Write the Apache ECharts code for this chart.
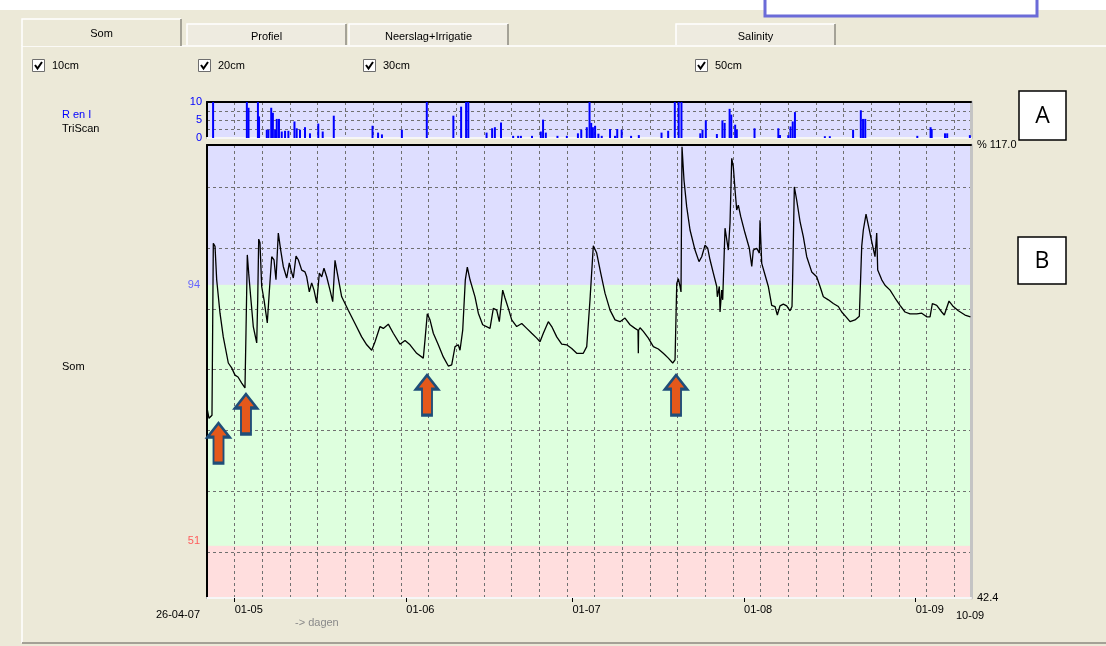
<!DOCTYPE html>
<html><head><meta charset="utf-8">
<script src="https://cdn.jsdelivr.net/npm/echarts@6/dist/echarts.min.js"></script>
<style>html,body{margin:0;padding:0;background:#ece9d8;}#c{width:1106px;height:646px;}</style>
</head><body><div id="c"></div>
<script>
// ---- data (x = days since 26-04-07) ----
const startLabel = '26-04-07';
const endLabel = '10-09';
const dayMax = 138;
const xTickDays = [5, 36, 66, 97, 128];
const xTickLabels = ['01-05', '01-06', '01-07', '01-08', '01-09'];

const yMin = 42.4, yMax = 117;
const bandLimits = [42.4, 51, 94, 117];
const yLabelValues = [51, 94];
const yGridValues = [50, 60, 70, 80, 90, 100, 110];

const somDays = [0.0,0.36,0.9,1.14,1.45,1.75,2.35,2.94,3.85,4.46,
5.06,5.6,6.27,6.86,7.04,7.28,7.53,7.89,8.36,8.98,
9.16,9.34,9.57,9.88,10.3,10.89,11.25,11.69,12.1,12.46,
12.88,13.31,13.78,14.4,14.87,15.17,15.59,16.08,16.49,17.11,
17.7,18.01,18.48,18.91,19.33,19.82,20.29,20.72,21.13,21.62,
22.22,22.71,23.12,23.54,24.33,25.52,26.73,27.94,28.85,29.75,
30.35,31.25,31.85,32.75,33.65,34.86,35.77,36.67,37.88,39.07,
39.38,39.79,40.28,40.88,41.78,42.68,43.59,44.2,44.8,45.39,
45.7,46.19,46.66,47.02,47.51,48.41,49.01,49.8,51.12,51.72,
52.33,52.8,53.41,53.83,54.43,55.04,55.94,56.85,57.75,58.65,
59.56,60.15,60.75,61.65,62.27,63.17,64.07,64.97,65.88,66.78,
67.97,68.59,69.18,69.78,70.39,71.12,71.89,72.8,73.7,74.6,
75.5,76.41,77.31,77.85,77.91,77.96,78.22,78.81,79.72,80.62,
81.52,82.42,83.33,84.12,84.54,84.85,85.14,85.44,85.62,85.8,
86.16,86.65,87.25,88.15,88.87,89.36,89.96,90.44,90.86,91.46,
92.07,92.18,92.54,92.67,92.97,93.15,93.57,93.88,94.17,94.47,
94.78,95.07,95.38,95.68,95.97,96.41,97.18,97.96,98.4,98.68,
99.3,99.77,99.89,100.2,100.8,101.39,102.0,102.6,103.02,103.5,
104.1,104.71,105.31,105.67,105.8,106.09,106.52,107.12,107.71,108.33,
109.23,110.13,110.73,111.33,112.23,113.13,114.04,114.65,115.43,116.15,
117.05,117.83,118.14,118.26,118.55,119.04,119.45,120.07,120.66,120.97,
121.15,121.88,122.47,123.38,124.28,125.18,126.08,126.99,128.2,129.1,
130.0,130.6,131.02,131.81,132.71,133.18,134.03,134.7,135.71,136.92,
137.9];
const somValues = [73.7,72.0,72.5,100.8,100.3,94.8,89.3,85.4,81.1,80.3,
79.1,78.8,77.8,77.0,86.0,98.9,95.9,92.0,87.1,84.4,
91.5,101.5,100.9,93.7,91.5,87.7,92.8,98.6,98.1,94.8,
102.5,99.7,97.0,95.1,97.6,96.4,95.1,98.7,98.1,96.4,
96.1,95.3,92.8,94.3,93.1,91.0,95.9,95.3,96.7,95.3,
93.1,91.2,98.0,95.9,92.0,89.8,87.6,85.4,84.1,83.2,
84.6,87.1,86.8,87.5,86.0,84.2,84.8,84.1,82.7,81.9,
84.9,89.2,88.2,86.0,84.1,82.1,80.6,80.8,83.8,84.1,
83.2,86.5,94.8,96.9,94.8,92.0,89.3,87.4,86.8,90.1,
89.8,87.9,93.1,91.8,90.1,88.2,87.1,87.6,86.8,86.0,
85.2,84.6,86.0,87.9,87.1,85.4,84.2,84.1,83.5,82.7,
82.7,83.8,91.5,100.4,99.2,95.9,92.6,89.8,88.2,87.9,
88.5,87.4,86.8,86.5,82.7,86.5,86.9,86.3,85.2,83.8,
83.4,82.7,81.9,81.1,81.6,94.2,95.0,93.7,92.8,116.7,
111.2,106.8,103.0,99.7,97.8,98.6,100.5,100.0,98.1,95.9,
93.7,92.0,93.7,89.5,93.1,91.5,103.3,103.0,99.7,104.1,
114.8,113.4,109.6,106.3,107.1,105.2,102.5,100.0,97.0,99.7,
100.0,99.2,104.6,97.5,95.6,93.7,90.6,90.4,89.0,90.5,
90.8,90.5,89.7,90.4,95.9,110.1,107.9,104.4,101.9,98.6,
96.1,95.3,93.7,92.0,91.5,90.9,90.4,89.5,88.7,87.9,
88.2,88.8,88.7,100.3,103.0,105.6,103.8,101.1,98.6,102.5,
96.4,94.8,93.9,93.1,91.8,90.6,89.5,89.2,89.2,89.3,
88.7,88.7,90.9,90.6,89.5,89.0,91.3,90.5,89.7,89.0,
88.7];

const rainDays = [1.1,7.2,7.5,9.2,9.4,10.8,11.1,11.6,11.9,12.3,
12.6,13.0,13.5,14.1,14.7,15.8,16.2,16.8,17.7,18.6,
20.1,20.9,22.9,29.9,30.9,31.6,35.2,39.7,44.5,45.9,
46.8,47.2,50.5,51.5,52.0,53.1,55.3,56.2,56.7,58.7,
60.3,60.7,61.2,63.3,65.0,67.0,67.6,68.6,69.1,69.4,
69.7,70.1,70.7,71.3,72.8,73.7,74.1,74.9,76.6,78.0,
82.1,83.3,84.5,85.2,85.7,89.1,89.5,90.1,92.1,93.1,
93.5,94.4,94.7,95.4,95.7,98.9,103.2,103.5,105.0,105.4,
105.8,106.2,111.6,112.5,116.7,118.1,118.5,118.9,128.3,130.7,
130.9,133.3,133.7,137.8];
const rainValues = [10,10,8.4,10,6,2.3,2.3,8.4,7,2.3,
5.3,5.3,1.8,2,2,4.6,2.7,2.3,3,1.3,
4,1.8,6.2,3.4,1.5,1,2.3,10,6.2,8.7,
10,10,1.5,2.7,3,4.3,0.6,0.6,0.6,0.6,
1.8,5.1,1.5,0.6,0.6,1.3,2.3,3,10,4.2,
3,3.4,1.2,0.6,2.5,0.6,2.5,2.3,0.6,0.8,
1.5,2,10,10,10,1.3,2.3,4.9,1.1,4.9,
4.2,8.1,6.5,3.7,2.3,2.7,2.7,0.8,0.8,3.2,
4.6,7.2,0.5,0.5,2.3,7.7,5.3,5.3,0.6,3,
2.5,1.3,1.3,0.8];

const arrowDays = [2.08, 7.04, 39.74, 84.72];
const arrowValues = [67.9, 72.7, 75.8, 75.8];

const tabNames = ['Som', 'Profiel', 'Neerslag+Irrigatie', 'Salinity'];
const checkLabels = ['10cm', '20cm', '30cm', '50cm'];

// ---- chart ----
const FONT = '"Liberation Sans", Arial, sans-serif';
const dashed = {color: '#707070', type: [3, 3], width: 1};
const chart = echarts.init(document.getElementById('c'));

const graphic = [];
// top white strip and window fragment
graphic.push({type:'rect', shape:{x:0,y:0,width:1106,height:10}, style:{fill:'#ffffff'}, silent:true});
graphic.push({type:'rect', shape:{x:765,y:-4,width:272,height:20}, style:{fill:'#ffffff', stroke:'#6b6bd8', lineWidth:3}, silent:true});
// panel borders
graphic.push({type:'polyline', shape:{points:[[22,643],[22,46],[1106,46]]}, style:{stroke:'#ffffff', lineWidth:1.5, fill:null}, silent:true});
graphic.push({type:'line', shape:{x1:22,y1:643,x2:1106,y2:643}, style:{stroke:'#a4a196', lineWidth:2}, silent:true});
// tabs
const tabBoxes = [[22,19,159,27,true],[187,24,159,21,false],[349,24,159,21,false],[676,24,159,21,false]];
tabBoxes.forEach((b, i) => {
  const [x, y, w, h, act] = b;
  graphic.push({type:'rect', shape:{x:x,y:y,width:w,height:h}, style:{fill: act ? '#ece9d8' : '#eeebe0'}, silent:true});
  graphic.push({type:'polyline', shape:{points:[[x,y+h],[x,y],[x+w,y]]}, style:{stroke:'#ffffff', lineWidth:1.5, fill:null}, silent:true});
  graphic.push({type:'line', shape:{x1:x+w,y1:y,x2:x+w,y2:y+h}, style:{stroke:'#8d8a80', lineWidth:1.5}, silent:true});
  graphic.push({type:'text', x: x + w/2, y: y + (act ? 15 : 13), style:{text: tabNames[i], fill:'#000', font:'11px ' + FONT, textAlign:'center', textVerticalAlign:'middle', align:'center', verticalAlign:'middle'}, silent:true});
});
// checkboxes
const checkX = [32, 198, 363, 695];
checkX.forEach((x, i) => {
  graphic.push({type:'rect', shape:{x:x+0.5,y:59.5,width:12,height:12}, style:{fill:'#ffffff', stroke:'#6e6e6e', lineWidth:1}, silent:true});
  graphic.push({type:'polyline', shape:{points:[[x+3,65],[x+5.5,68.5],[x+10,62]]}, style:{stroke:'#000', lineWidth:2, fill:null}, silent:true});
  graphic.push({type:'text', x: x+20, y: 66, style:{text: checkLabels[i], fill:'#000', font:'11px ' + FONT, textAlign:'left', textVerticalAlign:'middle', align:'left', verticalAlign:'middle'}, silent:true});
});
function txt(t, x, y, color, align, size) {
  graphic.push({type:'text', x:x, y:y, style:{text:t, fill:color, font:(size||11)+'px ' + FONT, textAlign:align, textVerticalAlign:'middle', align:align, verticalAlign:'middle'}, silent:true});
}
txt('R en I', 62, 115, '#0000ff', 'left');
txt('TriScan', 62, 129, '#000000', 'left');
txt('Som', 62, 367, '#000000', 'left');
txt(startLabel, 200, 615, '#000000', 'right');
txt(endLabel, 956, 616, '#000000', 'left');
txt('-> dagen', 295, 623, '#8a8a8a', 'left');
// boxes A and B
[[1019,91,47,49,'A'],[1018,237,48,47,'B']].forEach(b => {
  graphic.push({type:'rect', shape:{x:b[0],y:b[1],width:b[2],height:b[3]}, style:{fill:'#ffffff', stroke:'#000', lineWidth:1.5}, silent:true});
  graphic.push({type:'text', x:b[0]+b[2]/2, y:b[1]+b[3]/2+1, style:{text:b[4], fill:'#000', font:'23px "Open Sans", sans-serif', textAlign:'center', textVerticalAlign:'middle', align:'center', verticalAlign:'middle'}, silent:true});
});

const option = {
  animation: false,
  backgroundColor: '#ece9d8',
  textStyle: {fontFamily: FONT},
  grid: [
    {left:207, top:102, width:764, height:36, show:true, backgroundColor:'#dedeff', borderWidth:0},
    {left:207, top:145, width:764, height:453, show:false}
  ],
  xAxis: [
    {gridIndex:0, type:'value', min:0, max:dayMax, interval:5, position:'bottom',
     axisLine:{show:true, onZero:false, lineStyle:{color:'#f6f6f6', width:2}}, axisTick:{show:false}, axisLabel:{show:false},
     splitLine:{show:true, lineStyle:dashed}},
    {gridIndex:0, type:'value', min:0, max:dayMax, position:'top',
     axisLine:{show:true, onZero:false, lineStyle:{color:'#000', width:2}}, axisTick:{show:false}, axisLabel:{show:false}, splitLine:{show:false}},
    {gridIndex:1, type:'value', min:0, max:dayMax, interval:5, position:'bottom',
     axisLine:{show:true, onZero:false, lineStyle:{color:'#f6f6f6', width:2}}, axisTick:{show:false}, axisLabel:{show:false},
     splitLine:{show:true, lineStyle:dashed}},
    {gridIndex:1, type:'value', min:0, max:dayMax, position:'top',
     axisLine:{show:true, onZero:false, lineStyle:{color:'#000', width:2}}, axisTick:{show:false}, axisLabel:{show:false}, splitLine:{show:false}},
    {gridIndex:1, type:'value', min:0, max:dayMax, position:'bottom',
     axisLine:{show:false, onZero:false},
     axisTick:{show:true, customValues:xTickDays, length:4, lineStyle:{color:'#000', width:1}},
     axisLabel:{show:true, customValues:xTickDays, formatter: v => xTickLabels[xTickDays.indexOf(v)] || '',
                align:'left', margin:6, fontSize:11, color:'#000', fontFamily:FONT},
     splitLine:{show:false}}
  ],
  yAxis: [
    {gridIndex:0, type:'value', min:0, max:10, interval:2.5, position:'left',
     axisLine:{show:true, onZero:false, lineStyle:{color:'#000', width:2}}, axisTick:{show:false},
     axisLabel:{formatter: v => (v % 5 === 0 ? String(v) : ''), color:'#0000ff', fontSize:11, margin:5, fontFamily:FONT},
     splitLine:{show:true, lineStyle:dashed}},
    {gridIndex:0, type:'value', min:0, max:10, position:'right',
     axisLine:{show:true, onZero:false, lineStyle:{color:'#c4c4c4', width:3}}, axisTick:{show:false}, axisLabel:{show:false}, splitLine:{show:false}},
    {gridIndex:1, type:'value', min:yMin, max:yMax, position:'left', z:-1,
     axisLine:{show:false}, axisTick:{show:false, customValues:bandLimits}, axisLabel:{show:false},
     splitLine:{show:false},
     splitArea:{show:true, areaStyle:{color:['#ffdede', '#deffde', '#dedeff']}}},
    {gridIndex:1, type:'value', min:yMin, max:yMax, position:'left',
     axisLine:{show:true, onZero:false, lineStyle:{color:'#000', width:2}}, axisTick:{show:false},
     axisLabel:{show:true, customValues:yLabelValues, margin:7, fontSize:11, fontFamily:FONT,
                formatter: v => (v === yLabelValues[0] ? '{r|' + v + '}' : '{b|' + v + '}'),
                rich:{r:{color:'#ff5c5c', fontSize:11, padding:[0,0,10,0]}, b:{color:'#6464ff', fontSize:11}}},
     splitLine:{show:false}},
    {gridIndex:1, type:'value', min:yMin, max:yMax, position:'right',
     axisLine:{show:true, onZero:false, lineStyle:{color:'#c4c4c4', width:3}},
     axisTick:{show:false, customValues:yGridValues},
     axisLabel:{show:true, customValues:[yMin, yMax], margin:6, fontSize:11, color:'#000', fontFamily:FONT,
                formatter: v => (v === yMax ? '% ' + yMax.toFixed(1) : String(yMin))},
     splitLine:{show:true, lineStyle:dashed}}
  ],
  series: [
    {type:'bar', xAxisIndex:0, yAxisIndex:0, barWidth:2, silent:true,
     itemStyle:{color:'#0000ff'},
     data: rainDays.map((d, i) => [d, rainValues[i]])},
    {type:'line', xAxisIndex:2, yAxisIndex:3, showSymbol:false, silent:true, z:3,
     lineStyle:{color:'#000', width:1.3},
     data: somDays.map((d, i) => [d, somValues[i]]),
     markPoint:{
       silent:true,
       symbol:'path://M11,0 L22,14 L16,14 L16,40 L6,40 L6,14 L0,14 Z',
       symbolSize:[22, 40], symbolKeepAspect:false,
       itemStyle:{color:'#e4581b', borderColor:'#1f4e79', borderWidth:2.5},
       label:{show:false},
       data: arrowDays.map((d, i) => ({coord:[d, arrowValues[i]]}))
     }}
  ],
  graphic: graphic
};
chart.setOption(option);
</script>
</body></html>
